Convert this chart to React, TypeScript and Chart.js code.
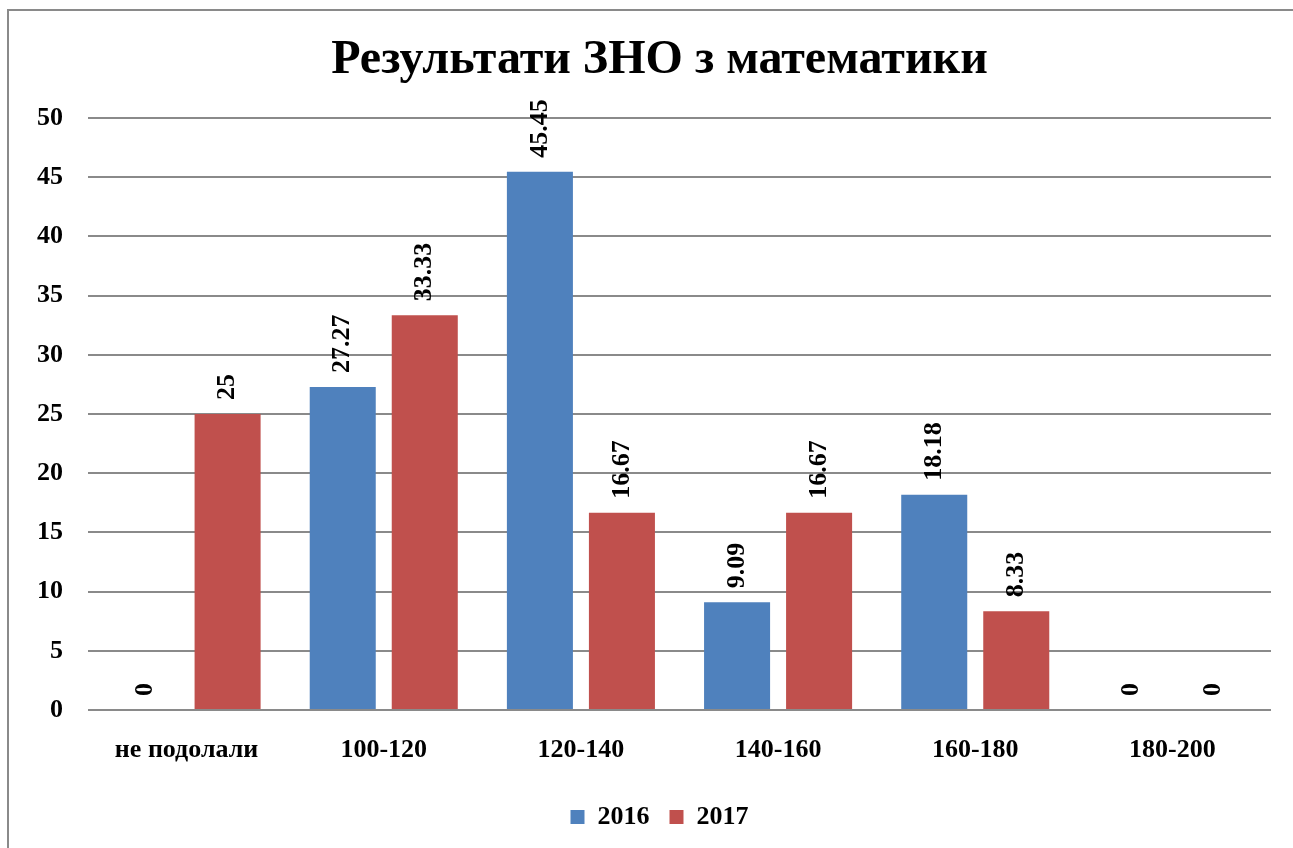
import React, { useEffect, useRef } from "react";
import { Chart, registerables } from "chart.js";

Chart.register(...registerables);

const categories = ["не подолали", "100-120", "120-140", "140-160", "160-180", "180-200"];
const values2016 = [0, 27.27, 45.45, 9.09, 18.18, 0];
const values2017 = [25, 33.33, 16.67, 16.67, 8.33, 0];
const seriesNames = ["2016", "2017"];
const yMin = 0;
const yMax = 50;
const yStep = 5;
const titleText = "Результати ЗНО з математики";

const FONT = '"Liberation Serif", "Times New Roman", serif';
const BLUE = "#4F81BD";
const RED = "#C0504D";
const GRID = "#8a8a8a";

const framePlugin = {
  id: "frame",
  beforeDraw(chart: any) {
    const ctx = chart.ctx;
    ctx.save();
    ctx.fillStyle = "#ffffff";
    ctx.fillRect(0, 0, chart.width, chart.height);
    ctx.strokeStyle = GRID;
    ctx.lineWidth = 2;
    ctx.strokeRect(8, 10, 3000, 3000);
    ctx.restore();
  },
};

const labelPlugin = {
  id: "barLabels",
  afterDatasetsDraw(chart: any) {
    const ctx = chart.ctx;
    ctx.save();
    ctx.font = `bold 26px ${FONT}`;
    ctx.fillStyle = "#000000";
    ctx.textAlign = "left";
    ctx.textBaseline = "middle";
    chart.data.datasets.forEach((ds: any, di: number) => {
      const meta = chart.getDatasetMeta(di);
      meta.data.forEach((bar: any, i: number) => {
        const v = ds.data[i];
        ctx.save();
        ctx.translate(bar.x, bar.y - 14);
        ctx.rotate(-Math.PI / 2);
        ctx.fillText(String(v), 0, 0);
        ctx.restore();
      });
    });
    ctx.restore();
  },
};

export default function App() {
  const ref = useRef<HTMLCanvasElement | null>(null);
  useEffect(() => {
    if (!ref.current) return;
    const chart = new Chart(ref.current, {
      type: "bar",
      data: {
        labels: categories,
        datasets: [
          {
            label: seriesNames[0],
            data: values2016,
            backgroundColor: BLUE,
            categoryPercentage: 0.832,
            barPercentage: 0.805,
          },
          {
            label: seriesNames[1],
            data: values2017,
            backgroundColor: RED,
            categoryPercentage: 0.832,
            barPercentage: 0.805,
          },
        ],
      },
      options: {
        responsive: false,
        animation: false,
        devicePixelRatio: 1,
        layout: { padding: { left: 26, right: 0, top: 0, bottom: 8 } },
        plugins: {
          title: {
            display: true,
            text: titleText,
            color: "#000000",
            font: { family: FONT, size: 48, weight: "bold", lineHeight: 1.2 },
            padding: { top: 32, bottom: 28.4 },
          },
          legend: {
            position: "bottom",
            labels: {
              color: "#000000",
              font: { family: FONT, size: 26, weight: "bold" },
              boxWidth: 14,
              boxHeight: 14,
              padding: 20,
            },
          },
          tooltip: { enabled: false },
        },
        scales: {
          x: {
            grid: { display: false, drawTicks: false },
            border: { display: false },
            ticks: {
              color: "#000000",
              font: { family: FONT, size: 26, weight: "bold" },
              padding: 25,
              maxRotation: 0,
              autoSkip: false,
            },
            afterFit: (s: any) => {
              s.height = 74;
            },
          },
          y: {
            min: yMin,
            max: yMax,
            grid: { color: GRID, lineWidth: 2, drawTicks: false },
            border: { display: false },
            ticks: {
              stepSize: yStep,
              color: "#000000",
              font: { family: FONT, size: 26, weight: "bold" },
              padding: 25,
            },
            afterFit: (s: any) => {
              s.width = 62;
            },
          },
          y2: {
            position: "right",
            display: true,
            grid: { display: false, drawTicks: false },
            border: { display: false },
            ticks: { display: false },
            afterFit: (s: any) => {
              s.width = 22;
            },
          },
        },
      },
      plugins: [framePlugin, labelPlugin],
    });
    return () => chart.destroy();
  }, []);
  return (
    <div style={{ position: "absolute", left: 0, top: 0, width: 1293, height: 848, overflow: "hidden" }}>
      <canvas ref={ref} width={1293} height={848} style={{ display: "block" }} />
    </div>
  );
}
